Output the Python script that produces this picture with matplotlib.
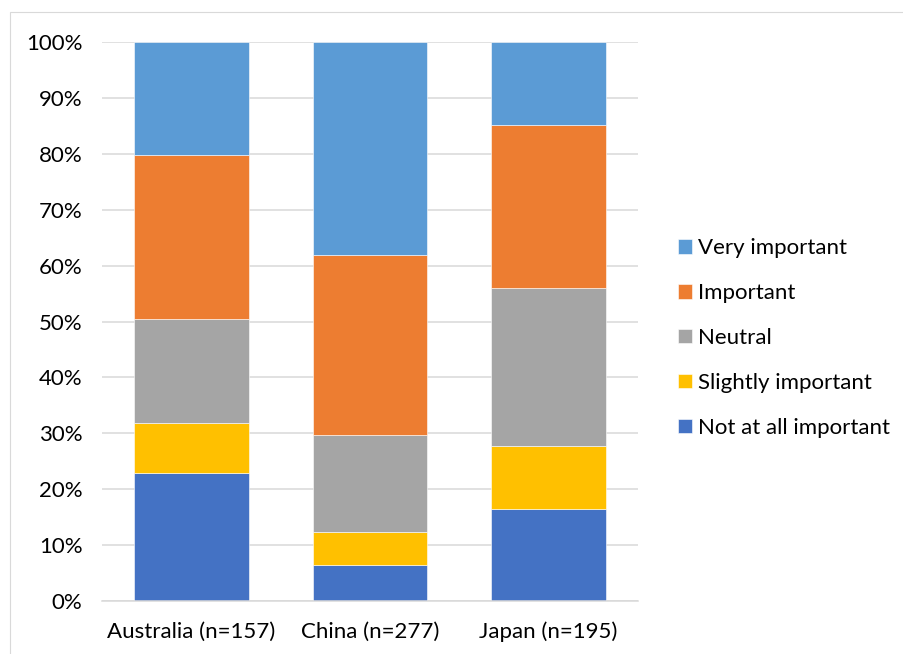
import matplotlib
matplotlib.use("Agg")
import matplotlib.pyplot as plt
import numpy as np
from matplotlib.patches import Rectangle

plt.rcParams.update({"font.family": ["Lato", "DejaVu Sans"], "font.size": 16})

COUNTRIES = ["Australia (n=157)", "China (n=277)", "Japan (n=195)"]
LEVELS = ["Not at all important", "Slightly important", "Neutral",
          "Important", "Very important"]
NOT_AT_ALL = [22.9, 6.5, 16.4]
SLIGHTLY = [8.9, 5.8, 11.3]
NEUTRAL = [18.6, 17.4, 28.3]
IMPORTANT = [29.3, 32.2, 29.2]
VERY = [20.3, 38.1, 14.8]
COLORS = ["#4472c4", "#ffc000", "#a5a5a5", "#ed7d31", "#5b9bd5"]

W, H = 904, 654
fig = plt.figure(figsize=(W / 100, H / 100), dpi=100)
ax = fig.add_axes([102 / W, 1 - 601 / H, 536 / W, 559 / H])

# faint chart-area border (cut off at right/bottom like the source)
fig.patches.append(Rectangle((10 / W, -0.1), 1.2, 1.1 - 12 / H,
                             transform=fig.transFigure, fill=False,
                             edgecolor="#d9d9d9", lw=0.8))

xs = np.arange(len(COUNTRIES))
bottom = np.zeros(len(COUNTRIES))
handles = []
for vals, label, color in zip([NOT_AT_ALL, SLIGHTLY, NEUTRAL, IMPORTANT, VERY],
                              LEVELS, COLORS):
    v = np.array(vals) / 100
    b = ax.bar(xs, v, 0.64, bottom=bottom, color=color, label=label,
               edgecolor="white", lw=0.4, zorder=2)
    handles.append(b)
    bottom += v

ax.set_xlim(-0.5, 2.5)
ax.set_ylim(0, 1)
ax.set_yticks(np.linspace(0, 1, 11))
ax.set_yticklabels([f"{int(round(t * 100))}%" for t in np.linspace(0, 1, 11)])
ax.set_xticks(xs, COUNTRIES)
ax.tick_params(length=0)
ax.tick_params(axis="y", pad=14)
ax.tick_params(axis="x", pad=15)
ax.grid(axis="y", color="#d9d9d9", lw=1.1, zorder=0)
for s in ["top", "right", "left"]:
    ax.spines[s].set_visible(False)
ax.spines["bottom"].set_color("#d9d9d9")
ax.spines["bottom"].set_linewidth(1.1)

fig.legend(handles[::-1], LEVELS[::-1], loc="center left",
           bbox_to_anchor=(658 / W, 1 - 338 / H), frameon=False,
           handlelength=0.63, handleheight=0.63, handletextpad=0.25,
           labelspacing=1.12, fontsize=16)

fig.savefig("out.png", dpi=100)
